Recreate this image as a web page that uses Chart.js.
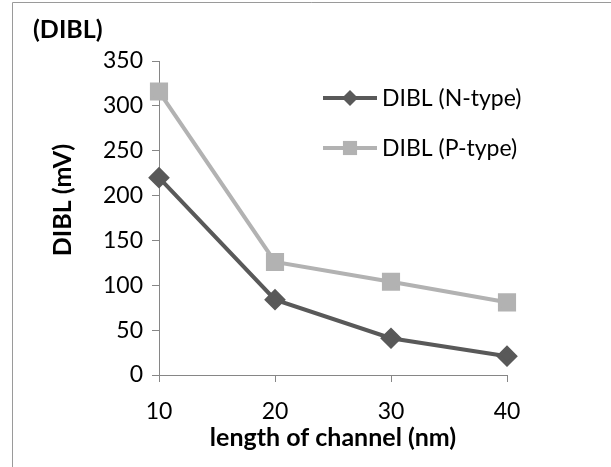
<!DOCTYPE html>
<html>
<head>
<meta charset="utf-8">
<script src="https://cdn.jsdelivr.net/npm/chart.js@4/dist/chart.umd.min.js"></script>
<style>
  html, body { margin: 0; padding: 0; background: #fff; }
  #wrap { width: 611px; height: 467px; position: relative; }
</style>
</head>
<body>
<div id="wrap"><canvas id="chart" width="611" height="467"></canvas></div>
<script>
const lengths = ["10", "20", "30", "40"];
const nType = [220, 84, 41, 21];
const pType = [316, 126, 104, 81];
const seriesNames = ["DIBL (N-type)", "DIBL (P-type)"];
const yTicks = { min: 0, max: 350, step: 50 };
const yTitle = "DIBL (mV)";

const FONT = "Lato";
const axisGrey = "#868686";

// white page + grey frame on top and left
const frame = {
  id: "frame",
  beforeDraw(chart) {
    const ctx = chart.ctx;
    ctx.save();
    ctx.fillStyle = "#fff";
    ctx.fillRect(0, 0, chart.width, chart.height);
    ctx.strokeStyle = "#9a9a9a";
    ctx.lineWidth = 1;
    ctx.beginPath();
    ctx.moveTo(12.5, chart.height);
    ctx.lineTo(12.5, 2.5);
    ctx.lineTo(chart.width, 2.5);
    ctx.stroke();
    ctx.restore();
  }
};

// y title sits a bit above the plot middle, like the original
const yAxisTitle = {
  id: "yAxisTitle",
  afterDraw(chart) {
    const ctx = chart.ctx;
    ctx.save();
    ctx.translate(63, 200);
    ctx.rotate(-Math.PI / 2);
    ctx.fillStyle = "#000";
    ctx.font = "bold 25px " + FONT;
    ctx.textAlign = "center";
    ctx.textBaseline = "middle";
    ctx.fillText(yTitle, 0, 0);
    ctx.restore();
  }
};

// legend sits inside the plot, upper right
const insideLegend = {
  id: "insideLegend",
  afterDatasetsDraw(chart) {
    const ctx = chart.ctx;
    chart.data.datasets.forEach((ds, i) => {
      const y = 98 + i * 50;
      ctx.save();
      ctx.strokeStyle = ds.borderColor;
      ctx.lineWidth = ds.borderWidth;
      ctx.beginPath();
      ctx.moveTo(323, y);
      ctx.lineTo(377, y);
      ctx.stroke();
      ctx.fillStyle = ds.pointBackgroundColor;
      ctx.beginPath();
      const r = ds.pointRadius;
      if (ds.pointStyle === "rectRot") {
        ctx.moveTo(350, y - r);
        ctx.lineTo(350 + r, y);
        ctx.lineTo(350, y + r);
        ctx.lineTo(350 - r, y);
      } else {
        const h = r / Math.SQRT2;
        ctx.rect(350 - h, y - h, 2 * h, 2 * h);
      }
      ctx.closePath();
      ctx.fill();
      ctx.fillStyle = "#000";
      ctx.font = "23px " + FONT;
      ctx.textBaseline = "middle";
      ctx.fillText(ds.label, 382, y + 1);
      ctx.restore();
    });
  }
};

new Chart(document.getElementById("chart"), {
  type: "line",
  data: {
    labels: lengths,
    datasets: [{
      label: seriesNames[0],
      data: nType,
      borderColor: "#595959",
      backgroundColor: "#595959",
      pointBackgroundColor: "#595959",
      pointBorderColor: "#595959",
      borderWidth: 4,
      pointStyle: "rectRot",
      pointRadius: 8,
      pointHoverRadius: 8,
      tension: 0
    }, {
      label: seriesNames[1],
      data: pType,
      borderColor: "#b2b2b2",
      backgroundColor: "#b2b2b2",
      pointBackgroundColor: "#b2b2b2",
      pointBorderColor: "#b2b2b2",
      borderWidth: 4,
      pointStyle: "rect",
      pointRadius: 10,
      pointHoverRadius: 10,
      tension: 0
    }]
  },
  options: {
    responsive: false,
    animation: false,
    layout: { padding: { left: 33, right: 104, top: 0, bottom: 0 } },
    plugins: {
      legend: { display: false },
      tooltip: { enabled: false },
      title: {
        display: true,
        text: "(DIBL)",
        align: "start",
        color: "#000",
        font: { family: FONT, size: 25, weight: "bold" },
        padding: { top: 15, bottom: 16 }
      }
    },
    scales: {
      x: {
        type: "category",
        offset: false,
        grid: { drawOnChartArea: false, tickLength: 7, color: axisGrey },
        border: { color: axisGrey },
        ticks: { color: "#000", padding: 16, font: { family: FONT, size: 23 } },
        title: {
          display: true,
          text: "length of channel (nm)",
          color: "#000",
          font: { family: FONT, size: 25, weight: "bold" },
          padding: { top: 0, bottom: 14 }
        },
        afterFit(scale) { scale.height = 92; }
      },
      y: {
        min: yTicks.min,
        max: yTicks.max,
        grid: { drawOnChartArea: false, tickLength: 7, color: axisGrey },
        border: { color: axisGrey },
        ticks: { stepSize: yTicks.step, color: "#000", padding: 9, font: { family: FONT, size: 23 } },
        title: { display: false },
        afterFit(scale) { scale.width = 126; }
      }
    }
  },
  plugins: [frame, yAxisTitle, insideLegend]
});
</script>
</body>
</html>
